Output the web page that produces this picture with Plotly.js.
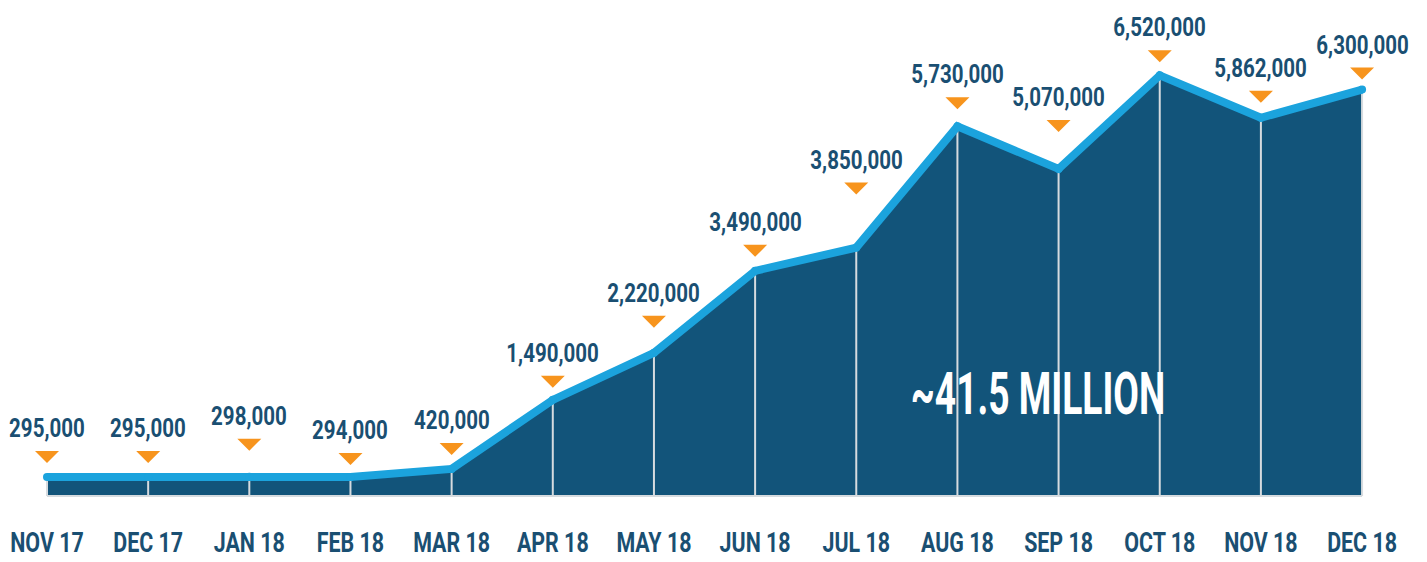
<!DOCTYPE html>
<html>
<head>
<meta charset="utf-8">
<script src="https://cdn.plot.ly/plotly-3.0.1.min.js"></script>
<style>html,body{margin:0;padding:0;background:#fff;}#chart{width:1427px;height:562px;}</style>
</head>
<body>
<div id="chart"></div>
<script>
const months = ['NOV 17','DEC 17','JAN 18','FEB 18','MAR 18','APR 18','MAY 18','JUN 18','JUL 18','AUG 18','SEP 18','OCT 18','NOV 18','DEC 18'];
const users = [295000, 295000, 298000, 294000, 420000, 1490000, 2220000, 3490000, 3850000, 5730000, 5070000, 6520000, 5862000, 6300000];
const valueLabels = ['295,000','295,000','298,000','294,000','420,000','1,490,000','2,220,000','3,490,000','3,850,000','5,730,000','5,070,000','6,520,000','5,862,000','6,300,000'];
const totalLabel = '~41.5 MILLION';

// style: pixel gap between each point and its orange marker (label sits above it)
const markerLift = [14, 14, 26, 12, 14, 12, 25, 14, 53, 17, 37, 13, 15, 10];

const xs = months.map((m, i) => i);
const zeros = users.map(() => 0);
const FONT = 'Roboto, Inter, sans-serif';
const DARK = '#12547a';
const LINE = '#1ba3dd';
const ORANGE = '#f7941d';
const TEXT = '#1a4f72';
const DIV = '#d6dbdf';

const traces = [
  {x: xs, y: users, type: 'scatter', mode: 'lines', fill: 'tozeroy', fillcolor: DARK,
   line: {width: 0, color: DARK}, hoverinfo: 'skip', showlegend: false},
  {x: xs, y: zeros, type: 'scatter', mode: 'lines', line: {width: 2, color: DIV},
   hoverinfo: 'skip', showlegend: false},
  {x: xs, y: users, type: 'scatter', mode: 'markers', marker: {size: 1, opacity: 0},
   error_y: {type: 'data', symmetric: false, array: zeros, arrayminus: users, color: DIV, thickness: 2, width: 0},
   hoverinfo: 'skip', showlegend: false},
  {x: xs, y: users, type: 'scatter', mode: 'lines+markers', line: {width: 8, color: LINE},
   marker: {size: 8, color: LINE}, hoverinfo: 'skip', showlegend: false}
];

const shapes = users.map((v, i) => {
  const l = markerLift[i];
  return {
    type: 'path', xref: 'x', yref: 'y', xsizemode: 'pixel', ysizemode: 'pixel',
    xanchor: i, yanchor: v, path: 'M -12 ' + (l + 12) + ' L 12 ' + (l + 12) + ' L 0 ' + l + ' Z',
    fillcolor: ORANGE, line: {width: 0}
  };
});

const annotations = users.map((v, i) => ({
  x: i, y: v, xref: 'x', yref: 'y', text: valueLabels[i], showarrow: false,
  yshift: markerLift[i] + 35, xanchor: 'center', yanchor: 'middle',
  font: {family: FONT, size: 26, color: TEXT, weight: 'bold'}
}));
annotations.push({
  x: 1038 / 1427, y: 1 - 393 / 498, xref: 'paper', yref: 'paper', text: totalLabel,
  showarrow: false, xanchor: 'center', yanchor: 'middle',
  font: {family: FONT, size: 59, color: '#ffffff', weight: 'bold'}
});

const layout = {
  width: 1427, height: 562,
  margin: {l: 0, r: 0, t: 0, b: 64},
  paper_bgcolor: '#ffffff', plot_bgcolor: '#ffffff',
  showlegend: false,
  xaxis: {range: [-0.4646, 13.642], showgrid: false, zeroline: false, showline: false,
    tickmode: 'array', tickvals: xs, ticktext: months, ticks: '', tickangle: 0,
    ticklabelstandoff: 25, ticklabeloverflow: 'allow',
    tickfont: {family: FONT, size: 28, color: TEXT, weight: 'bold'}},
  yaxis: {range: [-31000, 7688000], showgrid: false, zeroline: false, showline: false,
    showticklabels: false, ticks: ''},
  shapes: shapes,
  annotations: annotations
};

// horizontal condensing of text (the reference uses a condensed typeface)
function condense(el, sx) {
  const bb = el.getBBox();
  const cx = bb.x + bb.width / 2;
  const prev = el.getAttribute('transform') || '';
  el.setAttribute('transform', prev + ' translate(' + cx + ',0) scale(' + sx + ',1) translate(' + (-cx) + ',0)');
}

Plotly.newPlot('chart', traces, layout, {staticPlot: true, displayModeBar: false}).then(() => {
  const root = document.getElementById('chart');
  root.querySelectorAll('.annotation').forEach(g => {
    const idx = +g.getAttribute('data-index');
    const t = g.querySelector('text');
    if (!t) return;
    condense(t, idx === valueLabels.length ? 0.63 : 0.79);
  });
  root.querySelectorAll('.xtick text').forEach(t => condense(t, 0.765));
});
</script>
</body>
</html>
